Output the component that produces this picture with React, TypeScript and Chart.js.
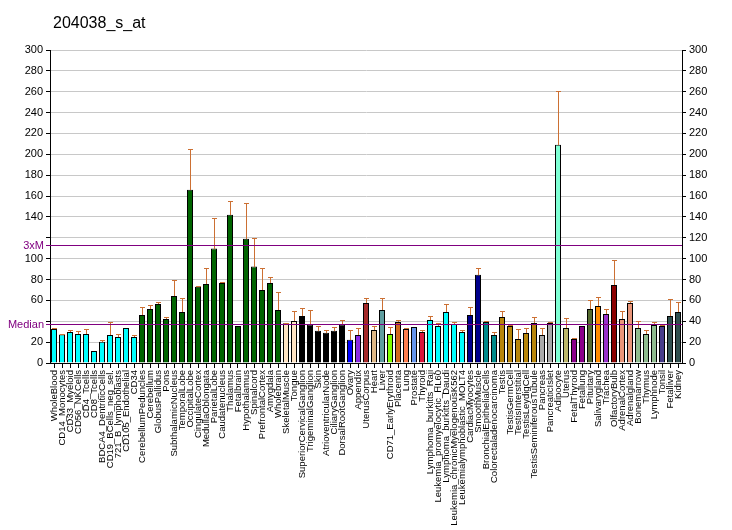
import React, { useEffect, useRef } from "react";
import { Chart, registerables } from "chart.js";

Chart.register(...registerables);

const chartTitle = "204038_s_at";

const categories = [
  "WholeBlood", "CD14_Monocytes", "CD33_Myeloid", "CD56_NKCells", "CD4_Tcells", "CD8_Tcells",
  "BDCA4_DentriticCells", "CD19_BCells_neg_sel.", "721_B_lymphoblasts", "CD105_Endothelial", "CD34",
  "CerebellumPeduncles", "Cerebellum", "GlobusPallidus", "Pons", "SubthalamicNucleus", "TemporalLobe",
  "OccipitalLobe", "CingulateCortex", "MedullaOblongata", "ParietalLobe", "Caudatenucleus", "Thalamus",
  "Fetalbrain", "Hypothalamus", "Spinalcord", "PrefrontalCortex", "Amygdala", "Wholebrain",
  "SkeletalMuscle", "Tongue", "SuperiorCervicalGanglion", "TrigeminalGanglion", "Skin",
  "AtrioventricularNode", "CiliaryGanglion", "DorsalRootGanglion", "Ovary", "Appendix", "UterusCorpus",
  "Heart", "Liver", "CD71_EarlyErythroid", "Placenta", "Lung", "Prostate", "Thyroid",
  "Lymphoma_burkitts_Raji", "Leukemia_promyelocytic_HL60", "Lymphoma_burkitts_Daudi",
  "Leukemia_chronicMyelogenousK562", "Leukemialymphoblastic_MOLT4", "CardiacMyocytes", "SmoothMuscle",
  "BronchialEpithelialCells", "Colorectaladenocarcinoma", "Testis", "TestisGermCell", "TestisInterstitial",
  "TestisLeydigCell", "TestisSeminiferousTubule", "Pancreas", "PancreaticIslet", "Adipocyte", "Uterus",
  "FetalThyroid", "Fetallung", "Pituitary", "Salivarygland", "Trachea", "OlfactoryBulb", "AdrenalCortex",
  "Adrenalgland", "Bonemarrow", "Thymus", "Lymphnode", "Tonsil", "Fetalliver", "Kidney",
];

const values = [
  32.6, 27.2, 29.7, 27.8, 27.8, 11.5, 20.4, 26.8, 24.9, 33.5, 24.9,
  46, 51.8, 56.6, 42.2, 64.3, 48.9, 166, 73.2, 75.8, 109.7, 76.7, 142, 35.5, 119.2, 92.4, 70, 76.7, 50.8,
  38, 40.3,
  45.1, 37, 31, 29.1, 31, 37,
  22.4, 26.8, 57.6, 31.7, 50.8, 27.8, 39.3, 32.6, 34.5, 29.7,
  41.2, 35.5, 48.9, 37.4, 29.7,
  46, 84.5,
  39.3, 26.9,
  44.1, 35.5, 23, 28.8, 38.4,
  26.9, 38.4,
  209.1,
  33.6,
  23, 35.5,
  51.8, 54.7, 47, 74.8, 42.2, 57.6, 33.6, 27.8, 36.5, 35.5, 45.1, 48.9,
];

const errors = [
  1.4, 0.9, 1.9, 2.5, 4.8, 0, 1.6, 12.5, 2.9, 0, 1.9,
  7.7, 3.8, 1.9, 1.9, 15.3, 13.5, 39.3, 0.7, 15.3, 29.4, 0.7, 13.4, 0, 34.6, 27.5, 21.4, 6.1, 17.3,
  0.6, 9.9,
  7.6, 13.8, 4.5, 2.6, 3.2, 4.2,
  9.3, 6.4, 4.4, 3.4, 11.2, 6.4, 1.9, 0.9, 0, 2,
  3.9, 2.5, 7.7, 1.9, 2,
  7.7, 6.3,
  1.3, 2.8,
  6.1, 1.3, 9.6, 4.8, 5.7,
  6.7, 0.9,
  51.9,
  9.6,
  1, 0,
  8.6, 8.6, 4.8, 24, 7.7, 1.9, 6.7, 3.9, 2.8, 1, 16.3, 9.6,
];

const barColors = [
  ...Array(11).fill("#00FFFF"),
  ...Array(18).fill("#006400"),
  "#FFE4C4", "#FFE4C4",
  ...Array(6).fill("#000000"),
  "#0000FF", "#8A2BE2", "#A52A2A", "#DEB887", "#5F9EA0", "#7FFF00", "#D2691E", "#FF7F50", "#6495ED", "#DC143C",
  ...Array(5).fill("#00FFFF"),
  "#00008B", "#00008B",
  "#008B8B", "#008B8B",
  ...Array(5).fill("#B8860B"),
  "#A9A9A9", "#A9A9A9",
  "#7FFFD4",
  "#BDB76B",
  "#8B008B", "#8B008B",
  "#556B2F", "#FF8C00", "#9932CC", "#8B0000",
  "#E9967A", "#E9967A",
  "#8FBC8F", "#8FBC8F", "#8FBC8F",
  "#483D8B",
  "#2F4F4F", "#2F4F4F",
];

const medianValue = 37.7;
const threeXMValue = 113.1;
const hiddenLeftTicks = [40, 120];
const yMin = 0;
const yMax = 300;
const yStep = 20;

const FONT = "'Liberation Sans', Arial, sans-serif";

const overlayPlugin = {
  id: "overlay",
  afterDatasetsDraw(chart: any) {
    const ctx = chart.ctx;
    const y = chart.scales.y;
    const meta = chart.getDatasetMeta(0);
    const area = chart.chartArea;
    ctx.save();
    // error bars
    ctx.strokeStyle = "#CC7033";
    ctx.lineWidth = 1;
    meta.data.forEach((bar: any, i: number) => {
      const e = errors[i];
      if (!e) return;
      const x = Math.round(bar.x) + 0.5;
      const yTop = Math.round(y.getPixelForValue(values[i] + e)) + 0.5;
      const yBar = Math.round(y.getPixelForValue(values[i]));
      ctx.beginPath();
      ctx.moveTo(x, yBar);
      ctx.lineTo(x, yTop);
      ctx.moveTo(x - 2.5, yTop);
      ctx.lineTo(x + 2.5, yTop);
      ctx.stroke();
    });
    // reference lines
    const refs = [
      { v: threeXMValue, label: "3xM" },
      { v: medianValue, label: "Median" },
    ];
    ctx.strokeStyle = "#800080";
    ctx.fillStyle = "#800080";
    ctx.font = `11px ${FONT}`;
    ctx.textAlign = "right";
    ctx.textBaseline = "middle";
    refs.forEach((r) => {
      const py = Math.round(y.getPixelForValue(r.v)) + 0.5;
      ctx.beginPath();
      ctx.moveTo(area.left - 4, py);
      ctx.lineTo(area.right, py);
      ctx.stroke();
      ctx.fillText(r.label, area.left - 6, py);
    });
    ctx.restore();
  },
  afterDraw(chart: any) {
    const ctx = chart.ctx;
    ctx.save();
    ctx.fillStyle = "#000";
    ctx.font = `16px ${FONT}`;
    ctx.textAlign = "left";
    ctx.textBaseline = "alphabetic";
    ctx.fillText(chartTitle, 53, 28);
    ctx.restore();
  },
};

export default function App() {
  const ref = useRef<HTMLCanvasElement | null>(null);
  useEffect(() => {
    if (!ref.current) return;
    const chart = new Chart(ref.current, {
      type: "bar",
      data: {
        labels: categories,
        datasets: [
          {
            data: values,
            backgroundColor: barColors,
            borderColor: "#000000",
            borderWidth: 1,
            barPercentage: 0.75,
            categoryPercentage: 1,
            yAxisID: "y",
          },
        ],
      },
      options: {
        animation: false,
        responsive: false,
        devicePixelRatio: 1,
        layout: { padding: { top: 50, left: 0, right: 0, bottom: 0 } },
        plugins: {
          legend: { display: false },
          tooltip: { enabled: false },
          title: { display: false },
        },
        scales: {
          x: {
            type: "category",
            offset: true,
            grid: {
              offset: false,
              drawOnChartArea: false,
              drawTicks: true,
              tickLength: 5,
              tickColor: "#000",
            },
            border: { display: true, color: "#000" },
            ticks: {
              autoSkip: false,
              maxRotation: 90,
              minRotation: 90,
              padding: 2,
              color: "#000",
              font: { size: 9.5, family: FONT },
            },
            afterFit(s: any) {
              s.height = 167;
            },
          },
          y: {
            position: "left",
            min: yMin,
            max: yMax,
            grid: { color: "#C8C8C8", tickColor: "#000", tickLength: 4 },
            border: { display: true, color: "#000" },
            ticks: {
              stepSize: yStep,
              padding: 3,
              color: "#000",
              font: { size: 11, family: FONT },
              callback: (v: any) => (hiddenLeftTicks.includes(Number(v)) ? "" : String(v)),
            },
            afterFit(s: any) {
              s.width = 50;
            },
          },
          y2: {
            position: "right",
            min: yMin,
            max: yMax,
            grid: { drawOnChartArea: false, tickColor: "#000", tickLength: 4 },
            border: { display: true, color: "#000" },
            ticks: {
              stepSize: yStep,
              padding: 3,
              color: "#000",
              font: { size: 11, family: FONT },
            },
            afterFit(s: any) {
              s.width = 50;
            },
          },
        },
      },
      plugins: [overlayPlugin],
    });
    return () => chart.destroy();
  }, []);
  return (
    <div style={{ position: "absolute", left: 0, top: 0, width: 732, height: 530, background: "#fff" }}>
      <canvas ref={ref} width={732} height={530} style={{ display: "block" }} />
    </div>
  );
}
